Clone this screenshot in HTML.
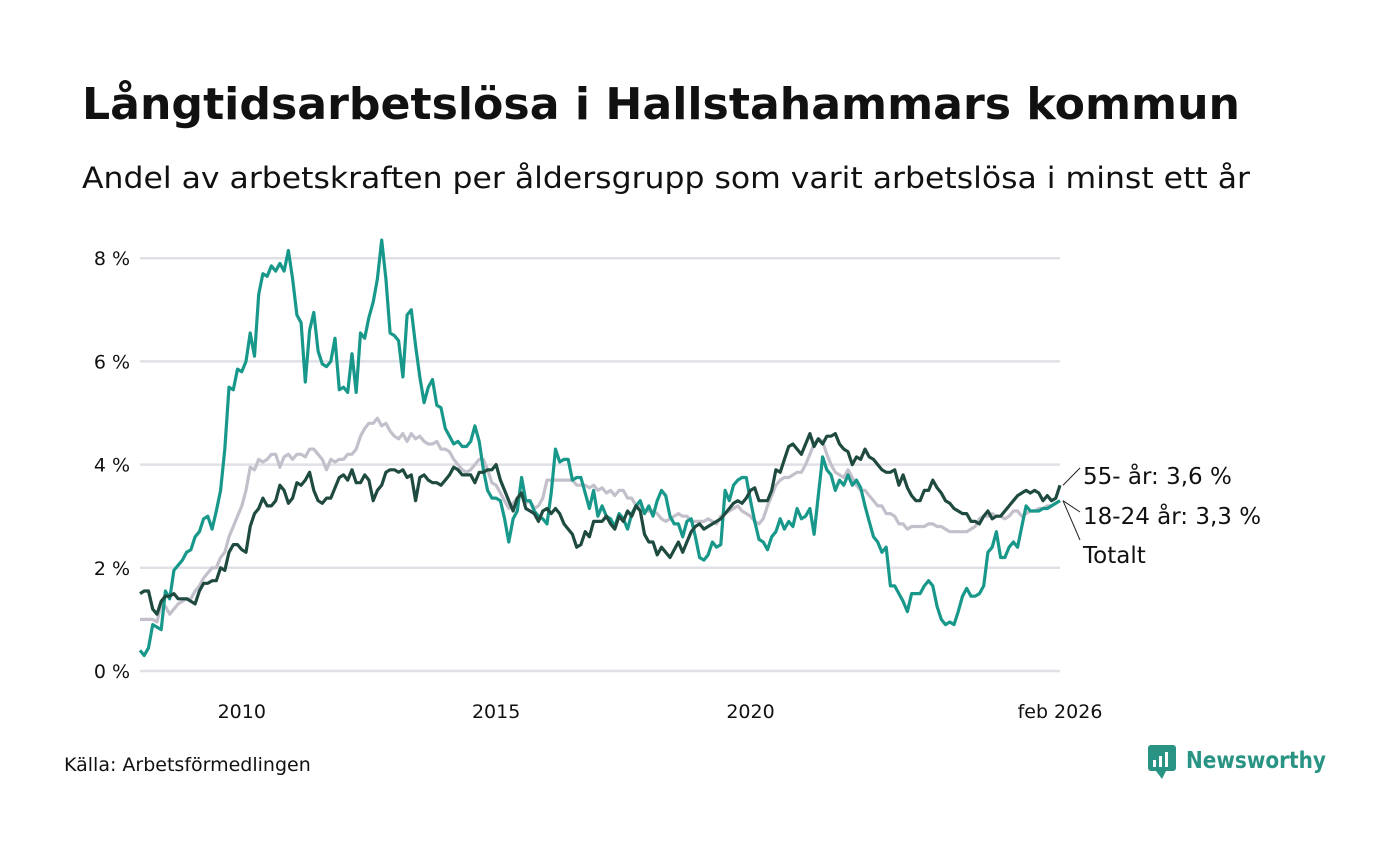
<!DOCTYPE html>
<html><head><meta charset="utf-8"><style>
body{margin:0;background:#fff;width:1400px;height:840px;overflow:hidden;font-family:"DejaVu Sans","Liberation Sans",sans-serif;}
</style></head><body>
<svg id="chart" width="1400" height="840">
<text x="82" y="119" font-size="44" font-weight="bold" fill="#111" textLength="1158" lengthAdjust="spacingAndGlyphs">Långtidsarbetslösa i Hallstahammars kommun</text>
<text x="82" y="188" font-size="29" fill="#111" textLength="1168" lengthAdjust="spacingAndGlyphs">Andel av arbetskraften per åldersgrupp som varit arbetslösa i minst ett år</text>
<g id="grid"></g><g id="lines"></g><g id="labels"></g>
<text x="64" y="771" font-size="19" fill="#111">Källa: Arbetsförmedlingen</text>
<g>
<rect x="1148" y="745" width="28" height="26" rx="3" fill="#2a9484"/>
<path d="M1156 771 L1162 779 L1166 771 Z" fill="#2a9484"/>
<rect x="1153" y="760" width="3" height="7" fill="#fff"/><rect x="1159" y="756" width="3" height="11" fill="#fff"/><rect x="1165" y="752" width="3" height="15" fill="#fff"/>
<text x="1186" y="768" font-size="23" font-weight="bold" fill="#2a9484" textLength="140" lengthAdjust="spacingAndGlyphs">Newsworthy</text>
</g>
</svg>
<script>
const yTicks=[0,2,4,6,8];
const xTickYears=[2010,2015,2020];
const young=[0.4,0.3,0.45,0.9,0.85,0.8,1.55,1.4,1.95,2.05,2.15,2.3,
2.35,2.6,2.7,2.95,3.0,2.75,3.1,3.5,4.3,5.5,5.45,5.85,
5.8,6.0,6.55,6.1,7.3,7.7,7.65,7.85,7.75,7.9,7.75,8.15,
7.6,6.9,6.75,5.6,6.6,6.95,6.2,5.95,5.9,6.0,6.45,5.45,
5.5,5.4,6.15,5.4,6.55,6.45,6.85,7.15,7.6,8.35,7.6,6.55,
6.5,6.4,5.7,6.9,7.0,6.3,5.7,5.2,5.5,5.65,5.15,5.1,
4.7,4.55,4.4,4.45,4.35,4.35,4.45,4.75,4.45,3.9,3.5,3.35,
3.35,3.3,2.95,2.5,2.95,3.1,3.75,3.3,3.3,3.1,3.0,2.95,
2.85,3.45,4.3,4.05,4.1,4.1,3.7,3.75,3.75,3.45,3.15,3.5,
3.0,3.2,3.0,2.95,2.8,3.05,2.95,2.75,3.05,3.2,3.3,3.05,
3.2,3.0,3.3,3.5,3.4,3.0,2.85,2.85,2.6,2.9,2.95,2.6,
2.2,2.15,2.25,2.5,2.4,2.45,3.5,3.3,3.6,3.7,3.75,3.75,
3.3,2.9,2.55,2.5,2.35,2.6,2.7,2.95,2.75,2.9,2.8,3.15,
2.95,3.0,3.15,2.65,3.4,4.15,3.9,3.8,3.5,3.7,3.6,3.8,
3.6,3.7,3.55,3.2,2.9,2.6,2.5,2.3,2.4,1.65,1.65,1.5,
1.35,1.15,1.5,1.5,1.5,1.65,1.75,1.65,1.25,1.0,0.9,0.95,
0.9,1.15,1.45,1.6,1.45,1.45,1.5,1.65,2.3,2.4,2.7,2.2,
2.2,2.4,2.5,2.4,2.8,3.2,3.1,3.1,3.1,3.15,3.15,3.2,
3.25,3.3];
const total=[1.0,1.0,1.0,1.0,0.95,1.3,1.25,1.1,1.2,1.3,1.35,1.4,
1.4,1.55,1.65,1.8,1.9,2.0,2.0,2.2,2.3,2.6,2.8,3.0,
3.2,3.5,3.95,3.9,4.1,4.05,4.1,4.2,4.2,3.95,4.15,4.2,
4.1,4.2,4.2,4.15,4.3,4.3,4.2,4.1,3.9,4.1,4.05,4.1,
4.1,4.2,4.2,4.3,4.55,4.7,4.8,4.8,4.9,4.75,4.8,4.65,
4.55,4.5,4.6,4.45,4.6,4.5,4.55,4.45,4.4,4.4,4.45,4.3,
4.3,4.25,4.1,4.0,3.9,3.85,3.9,4.0,4.1,4.1,3.9,3.65,
3.6,3.45,3.3,3.15,3.25,3.35,3.4,3.25,3.3,3.15,3.2,3.35,
3.7,3.7,3.7,3.7,3.7,3.7,3.7,3.6,3.6,3.6,3.55,3.6,
3.5,3.55,3.45,3.5,3.4,3.5,3.5,3.35,3.35,3.2,3.2,3.1,
3.1,3.1,3.05,2.95,2.9,2.95,3.0,3.05,3.0,3.0,2.9,2.9,
2.9,2.9,2.95,2.9,2.85,3.0,3.05,3.1,3.15,3.2,3.1,3.05,
3.0,2.9,2.85,2.95,3.2,3.4,3.6,3.7,3.75,3.75,3.8,3.85,
3.85,4.0,4.2,4.4,4.5,4.45,4.2,4.0,3.85,3.8,3.75,3.9,
3.75,3.6,3.5,3.5,3.4,3.3,3.2,3.2,3.05,3.05,3.0,2.85,
2.85,2.75,2.8,2.8,2.8,2.8,2.85,2.85,2.8,2.8,2.75,2.7,
2.7,2.7,2.7,2.7,2.75,2.8,2.95,3.0,3.0,3.05,3.0,3.0,
2.95,3.0,3.1,3.1,3.0,3.05,3.1,3.1,3.15,3.15,3.2,3.2,
3.25,3.3];
const old=[1.5,1.55,1.55,1.2,1.1,1.35,1.45,1.45,1.5,1.4,1.4,1.4,
1.35,1.3,1.55,1.7,1.7,1.75,1.75,2.0,1.95,2.3,2.45,2.45,
2.35,2.3,2.8,3.05,3.15,3.35,3.2,3.2,3.3,3.6,3.5,3.25,
3.35,3.65,3.6,3.7,3.85,3.5,3.3,3.25,3.35,3.35,3.55,3.75,
3.8,3.7,3.9,3.65,3.65,3.8,3.7,3.3,3.5,3.6,3.85,3.9,
3.9,3.85,3.9,3.75,3.8,3.3,3.75,3.8,3.7,3.65,3.65,3.6,
3.7,3.8,3.95,3.9,3.8,3.8,3.8,3.65,3.85,3.85,3.9,3.9,
4.0,3.7,3.5,3.3,3.1,3.35,3.45,3.15,3.1,3.05,2.9,3.1,
3.15,3.05,3.15,3.05,2.85,2.75,2.65,2.4,2.45,2.7,2.6,2.9,
2.9,2.9,3.0,2.85,2.75,3.0,2.9,3.1,3.0,3.2,3.1,2.65,
2.5,2.5,2.25,2.4,2.3,2.2,2.35,2.5,2.3,2.5,2.7,2.8,
2.85,2.75,2.8,2.85,2.9,2.95,3.05,3.15,3.25,3.3,3.25,3.35,
3.5,3.55,3.3,3.3,3.3,3.5,3.9,3.85,4.1,4.35,4.4,4.3,
4.2,4.4,4.6,4.35,4.5,4.4,4.55,4.55,4.6,4.4,4.3,4.25,
4.0,4.15,4.1,4.3,4.15,4.1,4.0,3.9,3.85,3.85,3.9,3.6,
3.8,3.55,3.4,3.3,3.3,3.5,3.5,3.7,3.55,3.45,3.3,3.25,
3.15,3.1,3.05,3.05,2.9,2.9,2.85,3.0,3.1,2.95,3.0,3.0,
3.1,3.2,3.3,3.4,3.45,3.5,3.45,3.5,3.45,3.3,3.4,3.3,
3.35,3.6];
const NS="http://www.w3.org/2000/svg";
const X0=140, XEND=1060, Y0=671, PXP=51.6;
const STEP=(XEND-X0)/(old.length-1);
function xm(i){return X0+i*STEP;}
function xy(year){return xm((year-2008)*12);}
function yv(v){return Y0-v*PXP;}
function mk(tag,attrs,parent){const e=document.createElementNS(NS,tag);for(const k in attrs)e.setAttribute(k,attrs[k]);parent.appendChild(e);return e;}
const grid=document.getElementById('grid');
yTicks.forEach(t=>{
  const l=mk('line',{x1:140,x2:1060,y1:yv(t),y2:yv(t),stroke:'#e1e0e6','stroke-width':2.5},grid);
  
  
  const tx=mk('text',{x:130,y:yv(t)+7,'font-size':19,'text-anchor':'end',fill:'#111'},grid);
  tx.textContent=t+' %';
  
  
});
xTickYears.forEach(yr=>{
  const tx=mk('text',{x:xy(yr),y:718,'font-size':19,'text-anchor':'middle',fill:'#111'},grid);
  tx.textContent=String(yr);
  
  
});
const last=mk('text',{x:xm(old.length-1),y:718,'font-size':19,'text-anchor':'middle',fill:'#111'},grid);
last.textContent='feb 2026';


const lines=document.getElementById('lines');
function draw(arr,color,name){
  const d=arr.map((v,i)=>(i?'L':'M')+xm(i).toFixed(1)+' '+yv(v).toFixed(1)).join(' ');
  const p=mk('path',{d:d,fill:'none',stroke:color,'stroke-width':3.2,'stroke-linejoin':'round'},lines);
  
  
}
draw(total,'#c3c0cb','line-totalt');
draw(young,'#18988a','line-18-24');
draw(old,'#1f4a40','line-55');
const lab=document.getElementById('labels');
const n=old.length-1, ex=xm(n);
const items=[[old[n],476,'55- år: 3,6 %','label-55',468],[young[n],516,'18-24 år: 3,3 %','label-18-24',512],[total[n],555,'Totalt','label-totalt',540]];
items.forEach(it=>{
  const l=mk('line',{x1:ex+3,y1:yv(it[0]),x2:1080,y2:it[4],stroke:'#222','stroke-width':1},lab);
  
  
  const t=mk('text',{x:1083,y:it[1]+8,'font-size':23,fill:'#111'},lab);
  t.textContent=it[2];
  
  
});
</script>
</body></html>
